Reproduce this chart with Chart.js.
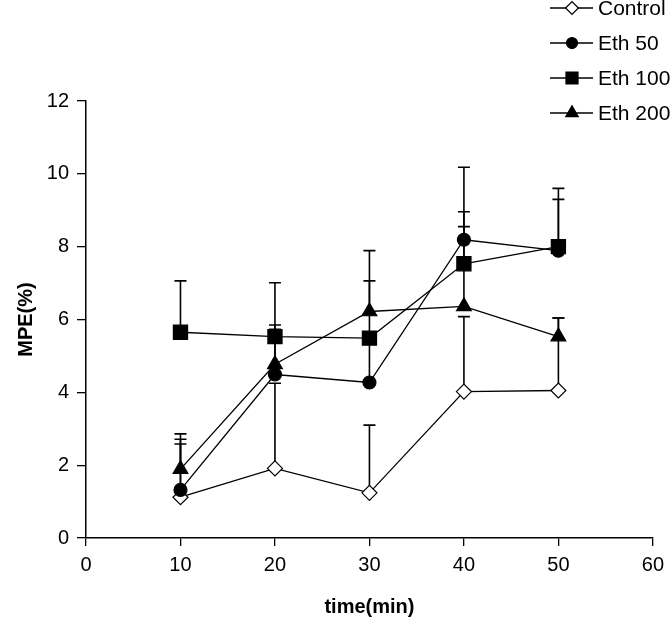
<!DOCTYPE html>
<html><head><meta charset="utf-8">
<script src="https://cdn.jsdelivr.net/npm/chart.js@4/dist/chart.umd.min.js"></script>
<style>html,body{margin:0;padding:0;background:#fff;}#wrap{width:671px;height:620px;}</style>
</head><body><div id="wrap"><canvas id="c" width="671" height="620"></canvas></div>
<script>
// ---- data ----
const times = [10, 20, 30, 40, 50];
const seriesNames = ['Control', 'Eth 50', 'Eth 100', 'Eth 200'];
const control   = [1.12, 1.91, 1.24, 4.02, 4.05];
const controlSd = [1.46, 2.34, 1.86, 2.06, 1.99];
const eth50     = [1.32, 4.49, 4.27, 8.19, 7.89];
const eth50Sd   = [1.39, 1.36, 1.10, 1.99, 1.41];
const eth100    = [5.65, 5.53, 5.49, 7.53, 8.00];
const eth100Sd  = [1.41, 0.20, 1.57, 1.43, 1.60];
const eth200    = [1.89, 4.77, 6.22, 6.36, 5.53];
const eth200Sd  = [0.97, 2.24, 1.67, 2.19, 0.51];
const xTicks = [0, 10, 20, 30, 40, 50, 60];
const yTicks = [0, 2, 4, 6, 8, 10, 12];

Chart.defaults.font.family = '"Liberation Sans", Arial, sans-serif';
Chart.defaults.color = '#000';

const toPts = arr => arr.map((v, i) => ({x: times[i], y: v}));
const styles = [
  {pointStyle: 'rectRot',  radius: 7.5, fill: '#fff'},
  {pointStyle: 'circle',   radius: 6.5, fill: '#000'},
  {pointStyle: 'rect',     radius: 10,  fill: '#000'},
  {pointStyle: 'triangle', radius: 8.5, fill: '#000'}
];
const values = [control, eth50, eth100, eth200];
const sds = [controlSd, eth50Sd, eth100Sd, eth200Sd];

const datasets = values.map((v, i) => ({
  label: seriesNames[i],
  data: toPts(v),
  errUp: sds[i],
  borderColor: '#000',
  borderWidth: 1.3,
  pointStyle: styles[i].pointStyle,
  pointRadius: styles[i].radius,
  pointHoverRadius: styles[i].radius,
  pointBackgroundColor: styles[i].fill,
  pointBorderColor: '#000',
  pointBorderWidth: 1.2,
  fill: false,
  tension: 0,
  order: 4 - i
}));

const errorBars = {
  id: 'errorBars',
  beforeDatasetsDraw(chart) {
    const ctx = chart.ctx, xs = chart.scales.x, ys = chart.scales.y;
    ctx.save();
    ctx.strokeStyle = '#000';
    ctx.lineWidth = 1.6;
    chart.data.datasets.forEach(ds => {
      ds.data.forEach((p, j) => {
        const e = ds.errUp[j];
        if (!e) return;
        const x = xs.getPixelForValue(p.x);
        const y0 = ys.getPixelForValue(p.y);
        const y1 = ys.getPixelForValue(p.y + e);
        ctx.beginPath();
        ctx.moveTo(x, y0); ctx.lineTo(x, y1);
        ctx.moveTo(x - 6, y1); ctx.lineTo(x + 6, y1);
        ctx.stroke();
      });
    });
    ctx.restore();
  }
};

const sideLegend = {
  id: 'sideLegend',
  afterDraw(chart) {
    const ctx = chart.ctx;
    ctx.save();
    chart.data.datasets.forEach((ds, i) => {
      const y = 8 + i * 35;
      ctx.strokeStyle = '#000';
      ctx.lineWidth = 1.3;
      ctx.beginPath(); ctx.moveTo(550, y); ctx.lineTo(593, y); ctx.stroke();
      ctx.fillStyle = ds.pointBackgroundColor;
      ctx.lineWidth = 1.2;
      Chart.helpers.drawPoint(ctx, {pointStyle: ds.pointStyle, radius: ds.pointRadius * 0.85, rotation: 0, borderWidth: 1.2}, 572, y);
      ctx.fillStyle = '#000';
      ctx.font = '21px "Liberation Sans", Arial, sans-serif';
      ctx.textBaseline = 'middle';
      ctx.textAlign = 'left';
      ctx.fillText(ds.label, 598, y + 1);
    });
    ctx.restore();
  }
};

new Chart(document.getElementById('c'), {
  type: 'line',
  data: {datasets},
  plugins: [errorBars, sideLegend],
  options: {
    responsive: false,
    animation: false,
    devicePixelRatio: 1,
    layout: {padding: {top: 101, right: 15, left: 0, bottom: 0}},
    plugins: {legend: {display: false}, tooltip: {enabled: false}},
    scales: {
      x: {
        type: 'linear', min: 0, max: 60,
        afterBuildTicks: s => { s.ticks = xTicks.map(v => ({value: v})); },
        afterFit: s => { s.height = 82; },
        grid: {display: true, drawOnChartArea: false, drawTicks: true, tickLength: 8, color: '#000', lineWidth: 1.3},
        border: {display: true, color: '#000', width: 1.5},
        ticks: {font: {size: 20}, padding: 7, maxRotation: 0},
        title: {display: true, text: 'time(min)', font: {size: 20, weight: 'bold'}, padding: {top: 0, bottom: 1}}
      },
      y: {
        min: 0, max: 12,
        afterBuildTicks: s => { s.ticks = yTicks.map(v => ({value: v})); },
        afterFit: s => { s.width = 86; },
        grid: {display: true, drawOnChartArea: false, drawTicks: true, tickLength: 9, color: '#000', lineWidth: 1.3},
        border: {display: true, color: '#000', width: 1.5},
        ticks: {font: {size: 20}, padding: 8},
        title: {display: true, text: 'MPE(%)', font: {size: 20, weight: 'bold'}, padding: {top: 14, bottom: 0}}
      }
    }
  }
});
</script></body></html>
